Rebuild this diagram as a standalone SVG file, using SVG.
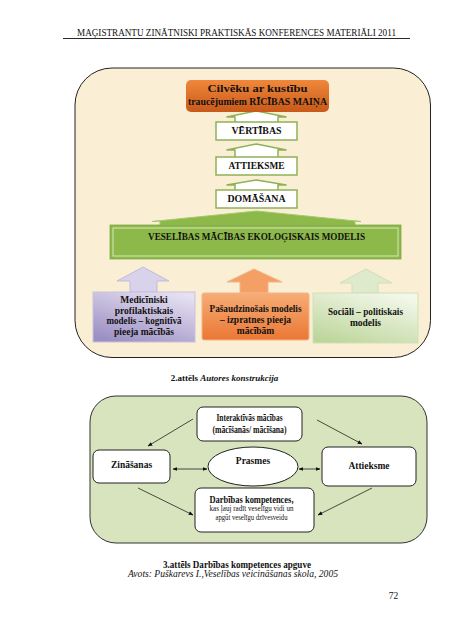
<svg xmlns="http://www.w3.org/2000/svg" width="452" height="640" viewBox="0 0 452 640">
<defs>
<style>
text{font-family:"Liberation Serif","Times New Roman",serif;fill:#111;text-anchor:middle}
.b{font-weight:700}
.bi{font-weight:700;font-style:italic}
.it{font-style:italic}
.wbox{fill:#fff;stroke:#8db255;stroke-width:1.5}
.warr{fill:#fff;stroke:#8db255;stroke-width:1.5;stroke-linejoin:miter}
.nb{fill:#fff;stroke:#222;stroke-width:1}
.con{stroke:#222;stroke-width:0.8;fill:none}
</style>
<linearGradient id="gOr" x1="0" y1="0" x2="0" y2="1"><stop offset="0" stop-color="#f0883a"/><stop offset="1" stop-color="#c8591a"/></linearGradient>
<linearGradient id="gPu" x1="0.8" y1="0" x2="0.2" y2="1"><stop offset="0" stop-color="#e6e1f1"/><stop offset="1" stop-color="#9c8fc3"/></linearGradient>
<linearGradient id="gOr2" x1="0" y1="0" x2="0" y2="1"><stop offset="0" stop-color="#f7ad76"/><stop offset="1" stop-color="#ea7734"/></linearGradient>
<linearGradient id="gGr" x1="0.8" y1="0" x2="0.2" y2="1"><stop offset="0" stop-color="#f4f8ec"/><stop offset="1" stop-color="#bdd69b"/></linearGradient>
<marker id="ah" viewBox="0 0 10 10" refX="9" refY="5" markerWidth="6" markerHeight="6" orient="auto-start-reverse"><path d="M0,1 L10,5 L0,9 z" fill="#111"/></marker>
</defs>
<rect width="452" height="640" fill="#fff"/>

<g id="header">
<text x="236.5" y="35.5" font-size="10.5" textLength="319" lengthAdjust="spacingAndGlyphs">MAĢISTRANTU ZINĀTNISKI PRAKTISKĀS KONFERENCES MATERIĀLI 2011</text>
<line x1="63" y1="38.5" x2="410" y2="38.5" stroke="#111" stroke-width="0.9"/>
</g>

<g id="panel1">
<rect x="75" y="68" width="355.5" height="289.5" rx="37" ry="37" fill="#faefd4" stroke="#222" stroke-width="1"/>
</g>
<g id="panel2">
<rect x="90" y="396" width="337" height="147" rx="26" ry="26" fill="#d7e4bd" stroke="#333" stroke-width="1"/>
</g>

<g id="connectors">
<path class="warr" d="M235,122 L235,117 L226.5,117 L256.5,111 L286.5,117 L278,117 L278,122"/>
<path class="warr" d="M235,157 L235,150 L226.5,150 L256.5,144 L286.5,150 L278,150 L278,157"/>
<path class="warr" d="M235,190 L235,185 L226.5,185 L256.5,180 L286.5,185 L278,185 L278,190"/>
<path d="M160,225 L160,221 L152,221.5 L256.5,211 L361,221.5 L355,221 L355,225 Z" fill="#8db84a" stroke="#a5c96e" stroke-width="1"/>
<path d="M130,292 L130,281 L117,281 L143,267 L169,281 L157,281 L157,292 Z" fill="#d8d2ea" stroke="#c2bbdc" stroke-width="1"/>
<path d="M240,293 L240,282 L227,282 L254,269 L282,282 L268,282 L268,293 Z" fill="#f4a064" stroke="#f2b489" stroke-width="1"/>
<path d="M352,293 L352,283 L340,283 L366,269 L392,283 L378,283 L378,293 Z" fill="#dfeacd" stroke="#cfe0b6" stroke-width="1"/>
<line class="con" x1="193" y1="419" x2="148" y2="446" marker-end="url(#ah)"/>
<line class="con" x1="317" y1="420" x2="362" y2="444" marker-end="url(#ah)"/>
<line class="con" x1="173" y1="469" x2="207" y2="469" marker-start="url(#ah)" marker-end="url(#ah)"/>
<line class="con" x1="299" y1="469" x2="320" y2="469" marker-start="url(#ah)" marker-end="url(#ah)"/>
<line class="con" x1="138" y1="488" x2="193" y2="515" marker-end="url(#ah)"/>
<line class="con" x1="372" y1="488" x2="318" y2="515" marker-end="url(#ah)"/>
</g>

<g id="ricibas">
<rect x="186" y="80" width="143" height="32" rx="5" fill="url(#gOr)"/>
<text class="b" x="257.5" y="91.5" font-size="9.5" textLength="100" lengthAdjust="spacingAndGlyphs">Cilvēku ar kustību</text>
<text class="b" x="257.5" y="105" font-size="9.5" textLength="139" lengthAdjust="spacingAndGlyphs">traucējumiem RĪCĪBAS MAIŅA</text>
</g>
<g id="vertibas">
<rect class="wbox" x="216" y="122" width="81" height="18"/>
<text class="b" x="256.5" y="134" font-size="9.5" textLength="50" lengthAdjust="spacingAndGlyphs">VĒRTĪBAS</text>
</g>
<g id="attieksme1">
<rect class="wbox" x="216" y="157" width="81" height="18"/>
<text class="b" x="256.5" y="169" font-size="9.5" textLength="56" lengthAdjust="spacingAndGlyphs">ATTIEKSME</text>
</g>
<g id="domasana">
<rect class="wbox" x="216" y="190" width="81" height="18"/>
<text class="b" x="256.5" y="202" font-size="9.5" textLength="58" lengthAdjust="spacingAndGlyphs">DOMĀŠANA</text>
</g>
<g id="ekologiskais">
<rect x="110" y="225" width="291" height="34" fill="#8db84a" stroke="#7fa844" stroke-width="0.8"/>
<rect x="113" y="228" width="285" height="28" fill="none" stroke="#d6e8b8" stroke-width="1"/>
<text class="b" x="256.5" y="239.5" font-size="9.5" textLength="217" lengthAdjust="spacingAndGlyphs">VESELĪBAS MĀCĪBAS EKOLOĢISKAIS MODELIS</text>
</g>
<g id="medicinas">
<rect x="93" y="292" width="102" height="50" fill="url(#gPu)" stroke="#c8c1de" stroke-width="1"/>
<text class="b" x="144" y="303" font-size="9.5">Medicīniski</text>
<text class="b" x="144" y="313.5" font-size="9.5">profilaktiskais</text>
<text class="b" x="144" y="324" font-size="9.5" textLength="75" lengthAdjust="spacingAndGlyphs">modelis – kognitīvā</text>
<text class="b" x="144" y="334.5" font-size="9.5">pieeja mācībās</text>
</g>
<g id="pasaudzinosais">
<rect x="202" y="293" width="107" height="47" rx="2" fill="url(#gOr2)" stroke="#f2b489" stroke-width="1"/>
<text class="b" x="255.5" y="312" font-size="9.5" textLength="92" lengthAdjust="spacingAndGlyphs">Pašaudzinošais modelis</text>
<text class="b" x="255.5" y="323" font-size="9.5">– izpratnes pieeja</text>
<text class="b" x="255.5" y="334" font-size="9.5">mācībām</text>
</g>
<g id="sociali">
<rect x="313" y="293" width="105" height="50" fill="url(#gGr)" stroke="#cfe0b6" stroke-width="1"/>
<text class="b" x="365.5" y="315" font-size="9.5" textLength="75" lengthAdjust="spacingAndGlyphs">Sociāli – politiskais</text>
<text class="b" x="365.5" y="325.5" font-size="9.5">modelis</text>
</g>
<g id="caption2">
<text x="224.5" y="381" font-size="9"><tspan class="b">2.attēls </tspan><tspan class="bi">Autores konstrukcija</tspan></text>
</g>

<g id="interaktivas">
<rect class="nb" x="197" y="407" width="105" height="34" rx="6"/>
<text class="b" x="249.5" y="421" font-size="9.5" textLength="66" lengthAdjust="spacingAndGlyphs">Interaktīvās mācības</text>
<text class="b" x="249.5" y="433" font-size="9.5" textLength="74" lengthAdjust="spacingAndGlyphs">(mācīšanās/ mācīšana)</text>
</g>
<g id="zinasanas">
<rect class="nb" x="93" y="450" width="77" height="33" rx="6"/>
<text class="b" x="131.5" y="467.5" font-size="9.5">Zināšanas</text>
</g>
<g id="prasmes">
<ellipse class="nb" cx="253" cy="466.5" rx="45" ry="19.5"/>
<text class="b" x="253" y="464" font-size="9.5">Prasmes</text>
</g>
<g id="attieksme2">
<rect class="nb" x="322" y="447" width="94" height="39" rx="6"/>
<text class="b" x="369" y="468.5" font-size="9.5">Attieksme</text>
</g>
<g id="darbibas">
<rect class="nb" x="195" y="488" width="119" height="44" rx="6"/>
<text class="b" x="251.5" y="502.5" font-size="10" textLength="84" lengthAdjust="spacingAndGlyphs">Darbības kompetences,</text>
<text x="251.5" y="511" font-size="7.5" textLength="84" lengthAdjust="spacingAndGlyphs">kas ļauj radīt veselīgu vidi un</text>
<text x="251.5" y="520" font-size="7.5" textLength="72" lengthAdjust="spacingAndGlyphs">apgūt veselīgu dzīvesveidu</text>
</g>
<g id="caption3">
<text class="b" x="237" y="568" font-size="10" textLength="148" lengthAdjust="spacingAndGlyphs">3.attēls Darbības kompetences apguve</text>
<text class="it" x="233" y="577" font-size="9.5" textLength="210" lengthAdjust="spacingAndGlyphs">Avots: Puškarevs I.,Veselības veicināšanas skola, 2005</text>
</g>
<g id="pagenum">
<text x="393.5" y="599" font-size="9.5" fill="#333">72</text>
</g>
</svg>
